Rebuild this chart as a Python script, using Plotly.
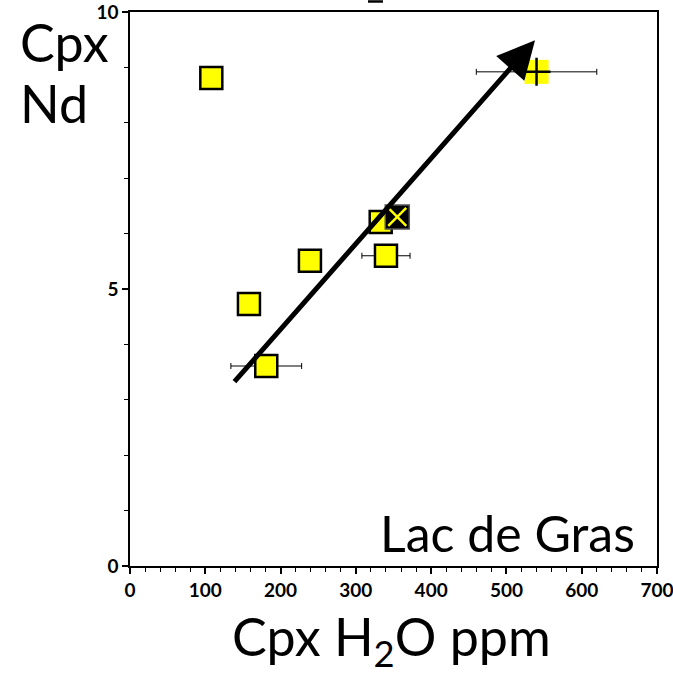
import plotly.graph_objects as go

# Data
sq_x = [108, 158, 239, 181, 333, 340]
sq_y = [8.81, 4.73, 5.51, 3.61, 6.21, 5.60]
sq_err = [0, 0, 0, 47, 0, 32]

x_pt = [355]
y_pt = [6.30]

plus_x = [540]
plus_y = [8.92]
plus_err = [80]

arrow_start = (137, 3.30)
arrow_end = (538, 9.49)

x_ticks = [0, 100, 200, 300, 400, 500, 600, 700]
y_ticks = [0, 5, 10]

FONT = "Lato"

fig = go.Figure()

fig.add_trace(go.Scatter(
    x=sq_x, y=sq_y, mode="markers",
    error_x=dict(type="data", array=sq_err, color="black", thickness=1, width=3),
    marker=dict(symbol="square", size=22, color="#ffff00", line=dict(color="black", width=2.5)),
    showlegend=False, hoverinfo="skip"))

fig.add_trace(go.Scatter(
    x=plus_x, y=plus_y, mode="markers",
    error_x=dict(type="data", array=plus_err, color="black", thickness=1, width=3),
    marker=dict(symbol="square", size=24, color="#ffff00", line=dict(width=0)),
    showlegend=False, hoverinfo="skip"))
fig.add_trace(go.Scatter(
    x=plus_x, y=plus_y, mode="markers",
    marker=dict(symbol="cross-thin", size=20, color="black", line=dict(color="black", width=2.5)),
    showlegend=False, hoverinfo="skip"))

fig.add_trace(go.Scatter(
    x=x_pt, y=y_pt, mode="markers",
    marker=dict(symbol="square", size=24, color="black", line=dict(color="#555555", width=1.5)),
    showlegend=False, hoverinfo="skip"))
fig.add_trace(go.Scatter(
    x=x_pt, y=y_pt, mode="markers",
    marker=dict(symbol="x-thin", size=18, color="#ffff00", line=dict(color="#ffff00", width=2.5)),
    showlegend=False, hoverinfo="skip"))

fig.add_annotation(
    x=arrow_end[0], y=arrow_end[1], ax=arrow_start[0], ay=arrow_start[1],
    xref="x", yref="y", axref="x", ayref="y",
    showarrow=True, arrowhead=2, arrowsize=1.5, arrowwidth=5, arrowcolor="black", text="")

fig.add_annotation(text="Cpx", x=-0.2125, y=0.946, xref="paper", yref="paper",
                   xanchor="left", yanchor="middle", showarrow=False,
                   font=dict(family=FONT, size=52, color="black"))
fig.add_annotation(text="Nd", x=-0.2125, y=0.836, xref="paper", yref="paper",
                   xanchor="left", yanchor="middle", showarrow=False,
                   font=dict(family=FONT, size=52, color="black"))

fig.add_annotation(text="Lac de Gras", x=0.962, y=0.0596, xref="paper", yref="paper",
                   xanchor="right", yanchor="middle", showarrow=False,
                   font=dict(family=FONT, size=50, color="black"))

fig.add_annotation(text="Cpx H<sub>2</sub>O ppm", x=0.497, y=-0.1336, xref="paper", yref="paper",
                   xanchor="center", yanchor="middle", showarrow=False,
                   font=dict(family=FONT, size=52, color="black"))

fig.add_shape(type="line", xref="paper", yref="paper", x0=0.4516, x1=0.480, y0=1.019, y1=1.019,
              line=dict(color="black", width=2.5))

axis_common = dict(showgrid=False, zeroline=False, showline=True, linecolor="black",
                   linewidth=1.5, mirror=True, ticks="outside", tickcolor="black",
                   ticklen=6, tickwidth=1.5, automargin=False, ticklabeloverflow="allow",
                   tickfont=dict(family=FONT, size=19, color="black", weight="bold"))

fig.update_xaxes(range=[0, 700], tickvals=x_ticks,
                 minor=dict(dtick=20, ticks="outside", ticklen=4, tickcolor="black", tickwidth=1),
                 **axis_common)
fig.update_yaxes(range=[0, 10], tickvals=y_ticks,
                 minor=dict(dtick=1, ticks="outside", ticklen=4, tickcolor="black", tickwidth=1),
                 **axis_common)

fig.update_layout(width=673, height=673, plot_bgcolor="white", paper_bgcolor="white",
                  margin=dict(l=130, r=16, t=12, b=107, autoexpand=False), autosize=False)

fig.write_html("out.html")
